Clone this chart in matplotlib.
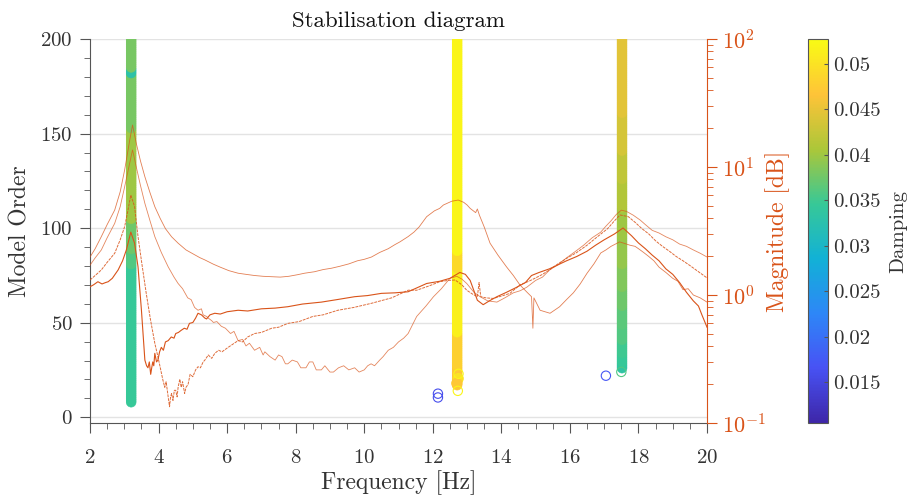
import numpy as np
import matplotlib as mpl
mpl.use('Agg')
import matplotlib.pyplot as plt
from matplotlib.colors import LinearSegmentedColormap, Normalize
from matplotlib.ticker import MultipleLocator, LogLocator, NullFormatter

plt.rcParams['font.family'] = 'cmr10'
plt.rcParams['mathtext.fontset'] = 'cm'
plt.rcParams['axes.formatter.use_mathtext'] = True

FIG_SIZE = (9.13, 4.97)
FRF_COLOR = '#D95319'
AX_COLOR = '#555555'
TXT_COLOR = '#333333'
D_MIN, D_MAX = 0.0105, 0.0527

# parula-like colormap (MATLAB default)
PARULA = LinearSegmentedColormap.from_list('parula', [
    (0.2422, 0.1504, 0.6603), (0.2810, 0.3228, 0.9579), (0.1786, 0.5289, 0.9682),
    (0.0689, 0.6948, 0.8394), (0.2161, 0.7843, 0.5923), (0.6720, 0.7793, 0.2227),
    (0.9970, 0.7659, 0.2199), (0.9769, 0.9839, 0.0805)])

# ---- FRF magnitude curves (4 channels) ----
freq_a = [2.00, 2.15, 2.33, 2.50, 2.72, 2.88, 3.01, 3.16, 3.24, 3.35, 3.47, 3.60, 3.75, 3.89,
          4.05, 4.20, 4.38, 4.57, 4.80, 5.00, 5.20, 5.35, 5.60, 5.80, 6.05, 6.32, 6.55, 6.80,
          7.05, 7.29, 7.55, 7.80, 8.05, 8.26, 8.55, 8.80, 9.05, 9.30, 9.55, 9.80, 10.00, 10.21,
          10.45, 10.70, 10.90, 11.04, 11.28, 11.45, 11.60, 11.82, 12.05, 12.20, 12.31, 12.45,
          12.55, 12.74, 12.90, 13.00, 13.09, 13.25, 13.30, 13.36, 13.50, 13.67, 13.90, 14.15,
          14.35, 14.54, 14.75, 14.88, 14.92, 14.95, 15.13, 15.42, 15.70, 15.90, 16.10, 16.30,
          16.50, 16.70, 16.90, 17.05, 17.20, 17.45, 17.55, 17.75, 17.90, 18.00, 18.15, 18.30,
          18.45, 18.60, 18.80, 19.00, 19.15, 19.30, 19.45, 19.60, 19.80, 20.00]
mag_a = [1.98, 2.30, 2.86, 3.55, 4.61, 6.40, 9.48, 16.3, 21.3, 15.3, 11.2, 8.4, 6.3, 4.90,
         3.95, 3.30, 2.85, 2.54, 2.25, 2.10, 1.96, 1.88, 1.74, 1.65, 1.55, 1.48, 1.45, 1.42,
         1.40, 1.39, 1.38, 1.40, 1.44, 1.48, 1.52, 1.58, 1.62, 1.68, 1.75, 1.85, 1.90, 1.98,
         2.15, 2.30, 2.48, 2.60, 2.86, 3.10, 3.40, 4.09, 4.55, 4.75, 5.05, 5.25,
         5.40, 5.52, 5.30, 5.05, 4.75, 4.40, 4.70, 4.20, 3.40, 2.54, 2.05, 1.66,
         1.42, 1.20, 1.05, 0.97, 0.55, 0.95, 0.76, 0.72, 0.81, 0.92, 1.04, 1.22,
         1.48, 1.75, 2.13, 2.25, 2.40, 2.60, 2.55, 2.45, 2.40, 2.30, 2.15, 2.00,
         1.85, 1.65, 1.50, 1.35, 1.28, 1.10, 1.12, 1.00, 0.95, 0.88]

freq_b = [2.00, 2.15, 2.33, 2.50, 2.72, 2.88, 3.01, 3.15, 3.24, 3.35, 3.47, 3.60, 3.75, 3.89,
          4.08, 4.28, 4.45, 4.57, 4.70, 4.85, 4.95, 5.05, 5.15, 5.25, 5.30, 5.40, 5.45, 5.55,
          5.60, 5.70, 5.83, 5.95, 6.10, 6.20, 6.32, 6.45, 6.55, 6.65, 6.80, 6.95, 7.05, 7.10,
          7.25, 7.40, 7.50, 7.60, 7.70, 7.77, 7.90, 8.05, 8.15, 8.30, 8.40, 8.50, 8.60, 8.75,
          8.85, 9.00, 9.10, 9.25, 9.40, 9.55, 9.72, 9.85, 10.00, 10.10, 10.20, 10.30, 10.45,
          10.55, 10.70, 10.85, 11.00, 11.15, 11.28, 11.53, 11.80, 12.02, 12.25, 12.50, 12.70,
          12.85, 12.99, 13.20, 13.38, 13.60, 13.87, 14.10, 14.35, 14.55, 14.74, 15.00, 15.20,
          15.42, 15.65, 15.90, 16.15, 16.40, 16.65, 16.90, 17.05, 17.20, 17.35, 17.50, 17.65,
          17.85, 18.05, 18.20, 18.40, 18.60, 18.80, 19.00, 19.20, 19.40, 19.60, 19.80, 20.00]
mag_b = [1.71, 1.95, 2.25, 2.80, 3.63, 4.90, 7.0, 10.5, 13.6, 10.0, 7.2, 5.2, 3.80, 2.86,
         2.15, 1.66, 1.38, 1.23, 1.12, 0.95, 0.92, 0.80, 0.76, 0.78, 0.70, 0.68, 0.66, 0.63,
         0.61, 0.62, 0.57, 0.55, 0.50, 0.52, 0.44, 0.45, 0.40, 0.42, 0.37, 0.39, 0.34, 0.36,
         0.33, 0.31, 0.34, 0.33, 0.29, 0.29, 0.31, 0.30, 0.27, 0.27, 0.30, 0.30, 0.26, 0.26,
         0.28, 0.25, 0.25, 0.27, 0.28, 0.26, 0.27, 0.25, 0.26, 0.28, 0.29, 0.28, 0.31,
         0.33, 0.37, 0.39, 0.43, 0.46, 0.50, 0.68, 0.82, 0.97, 1.12, 1.35, 1.40,
         1.33, 1.23, 1.05, 0.97, 0.90, 0.88, 0.95, 1.04, 1.08, 1.15, 1.30, 1.38,
         1.58, 1.72, 1.95, 2.18, 2.45, 2.80, 3.10, 3.45, 3.80, 4.25, 4.60, 4.50,
         4.20, 3.85, 3.55, 3.20, 3.05, 2.85, 2.70, 2.50, 2.40, 2.25, 2.12, 1.98]

freq_c = [2.00, 2.15, 2.33, 2.50, 2.72, 2.88, 3.01, 3.10, 3.19, 3.30, 3.40, 3.52, 3.64, 3.76,
          3.89, 3.98, 4.05, 4.12, 4.18, 4.22, 4.28, 4.32, 4.35, 4.38, 4.42, 4.46, 4.50, 4.54,
          4.57, 4.62, 4.66, 4.70, 4.76, 4.80, 4.86, 4.92, 5.00, 5.08, 5.15, 5.22, 5.30, 5.35,
          5.45, 5.55, 5.64, 5.75, 5.85, 6.03, 6.15, 6.32, 6.45, 6.60, 6.80, 7.00, 7.30, 7.50,
          7.77, 8.10, 8.50, 8.80, 9.23, 9.70, 10.20, 10.80, 11.28, 11.53, 11.90, 12.20, 12.45,
          12.65, 12.85, 12.99, 13.15, 13.30, 13.35, 13.40, 13.55, 13.76, 14.00, 14.25, 14.54,
          14.80, 15.00, 15.20, 15.42, 15.65, 15.90, 16.20, 16.50, 16.80, 17.10, 17.30, 17.46,
          17.70, 17.90, 18.10, 18.30, 18.50, 18.70, 18.90, 19.10, 19.30, 19.50, 19.75, 20.00]
mag_c = [1.31, 1.42, 1.57, 1.80, 2.12, 2.70, 3.42, 4.50, 6.04, 4.9, 2.86, 1.70, 1.03, 0.65,
         0.42, 0.33, 0.27, 0.22, 0.19, 0.21, 0.16, 0.134, 0.16, 0.17, 0.15, 0.18, 0.18, 0.16,
         0.19, 0.22, 0.19, 0.21, 0.17, 0.19, 0.20, 0.24, 0.23, 0.26, 0.275, 0.27, 0.30, 0.31,
         0.34, 0.32, 0.35, 0.37, 0.36, 0.39, 0.41, 0.44, 0.43, 0.47, 0.50, 0.51, 0.55, 0.56,
         0.60, 0.62, 0.68, 0.70, 0.76, 0.80, 0.86, 0.95, 1.09, 1.09, 1.18, 1.27, 1.30,
         1.31, 1.20, 1.09, 1.02, 0.97, 1.25, 0.97, 0.95, 0.94, 0.98, 1.03, 1.20,
         1.28, 1.36, 1.45, 1.58, 1.75, 1.93, 2.15, 2.45, 2.85, 3.30, 3.80, 4.22,
         4.10, 3.70, 3.30, 3.00, 2.65, 2.40, 2.20, 2.00, 1.85, 1.70, 1.52, 1.36]

freq_d = [2.00, 2.10, 2.23, 2.35, 2.45, 2.53, 2.65, 2.82, 2.95, 3.06, 3.19, 3.30, 3.40, 3.50,
          3.60, 3.65, 3.69, 3.73, 3.77, 3.80, 3.83, 3.86, 3.89, 3.94, 3.98, 4.03, 4.08, 4.14,
          4.20, 4.28, 4.37, 4.45, 4.50, 4.58, 4.66, 4.75, 4.83, 4.90, 5.00, 5.08, 5.15, 5.25,
          5.35, 5.40, 5.50, 5.64, 5.80, 6.00, 6.32, 6.60, 7.00, 7.40, 7.77, 8.20, 8.75, 9.20,
          9.72, 10.10, 10.50, 10.90, 11.28, 11.82, 12.20, 12.50, 12.79, 12.95, 13.09, 13.30,
          13.47, 13.65, 13.87, 14.15, 14.45, 14.70, 14.88, 15.10, 15.40, 15.65, 15.90, 16.20,
          16.50, 16.75, 17.00, 17.30, 17.55, 17.80, 18.00, 18.20, 18.40, 18.60, 18.80, 19.00,
          19.20, 19.40, 19.60, 19.75, 19.85, 20.00]
mag_d = [1.16, 1.20, 1.27, 1.22, 1.25, 1.27, 1.35, 1.57, 1.85, 2.25, 3.10, 2.54, 1.66, 0.76,
         0.31, 0.28, 0.27, 0.30, 0.24, 0.27, 0.30, 0.28, 0.35, 0.30, 0.31, 0.36, 0.39, 0.37,
         0.43, 0.44, 0.47, 0.46, 0.50, 0.51, 0.53, 0.55, 0.54, 0.60, 0.61, 0.66, 0.72, 0.70,
         0.66, 0.65, 0.70, 0.72, 0.71, 0.74, 0.76, 0.75, 0.78, 0.79, 0.81, 0.85, 0.88, 0.92,
         0.97, 0.99, 1.03, 1.04, 1.06, 1.23, 1.28, 1.35, 1.50, 1.45, 1.30, 0.91,
         0.84, 0.90, 0.97, 1.05, 1.15, 1.25, 1.42, 1.50, 1.60, 1.72, 1.85, 2.00,
         2.20, 2.45, 2.70, 3.00, 3.34, 2.90, 2.55, 2.30, 2.05, 1.85, 1.60, 1.45,
         1.25, 1.05, 0.90, 0.82, 0.70, 0.56]

# ---- stable poles: one per model order, stretches of (first order, last order, damping) ----
mode_freq = [3.20, 12.71, 17.52]
mode1_stretch = [(8, 80, 0.0345), (81, 88, 0.0360), (89, 104, 0.0375), (105, 152, 0.0400),
                 (153, 181, 0.0380), (182, 184, 0.0330), (185, 200, 0.0380)]
mode2_stretch = [(17, 26, 0.0470), (27, 44, 0.0480), (45, 78, 0.0515), (79, 87, 0.0490),
                 (88, 200, 0.0520)]
mode3_stretch = [(26, 28, 0.0335), (29, 33, 0.0345), (34, 40, 0.0350), (41, 48, 0.0360),
                 (49, 58, 0.0365), (59, 68, 0.0375), (69, 80, 0.0385), (81, 95, 0.0395),
                 (96, 110, 0.0400), (111, 125, 0.0410), (126, 140, 0.0420),
                 (141, 160, 0.0435), (161, 200, 0.0445)]

# loose poles at the bottom of the columns
extra_freq = [12.74, 12.70]
extra_order = [20.5, 18.0]
extra_damp = [0.0500, 0.0470]

# hollow (unstable) poles
open_freq = [12.15, 12.15, 12.73, 12.75, 17.05, 17.50]
open_order = [10.5, 12.5, 14.0, 23.0, 22.0, 24.0]
open_damp = [0.0160, 0.0160, 0.0520, 0.0520, 0.0170, 0.0360]

cbar_ticks = [0.015, 0.02, 0.025, 0.03, 0.035, 0.04, 0.045, 0.05]

fig = plt.figure(figsize=FIG_SIZE, dpi=100)
ax = fig.add_axes([0.0986, 0.1489, 0.6758, 0.7726])
norm = Normalize(D_MIN, D_MAX)

# Stabilisation columns
for f0, stretches in zip(mode_freq, [mode1_stretch, mode2_stretch, mode3_stretch]):
    orders, damps = [], []
    for first, last, d in stretches:
        n = np.arange(first, last + 1)
        orders.append(n)
        damps.append(np.full(len(n), d))
    orders = np.concatenate(orders)
    damps = np.concatenate(damps)
    ax.scatter(np.full(len(orders), f0), orders, c=damps, cmap=PARULA, norm=norm,
               s=50, edgecolors='face', linewidths=0.4, zorder=3)
ax.scatter(extra_freq, extra_order, c=extra_damp, cmap=PARULA, norm=norm,
           s=50, edgecolors='face', zorder=3)
ax.scatter(open_freq, open_order, facecolors='none', edgecolors=PARULA(norm(open_damp)),
           s=45, linewidths=0.8, zorder=3)

ax.set_xlim(2, 20)
ax.set_ylim(-3, 200)
ax.xaxis.set_major_locator(MultipleLocator(2))
ax.xaxis.set_minor_locator(MultipleLocator(0.5))
ax.yaxis.set_major_locator(MultipleLocator(50))
ax.yaxis.set_minor_locator(MultipleLocator(10))
ax.yaxis.grid(True, color='#e3e3e3', lw=1.0)
ax.set_axisbelow(True)
ax.tick_params(which='both', direction='out', colors=AX_COLOR, labelcolor=TXT_COLOR,
               labelsize=15)
ax.tick_params(which='major', length=7)
ax.tick_params(which='minor', length=4)
ax.tick_params(axis='x', which='major', pad=12)
ax.tick_params(axis='y', which='major', pad=5.5)
for s in ['top', 'right']:
    ax.spines[s].set_visible(False)
for s in ['left', 'bottom']:
    ax.spines[s].set_color(AX_COLOR)
ax.set_xlabel('Frequency [Hz]', fontsize=17, color=TXT_COLOR, labelpad=2)
ax.set_ylabel('Model Order', fontsize=17, color=TXT_COLOR, labelpad=6)
ax.set_title('Stabilisation diagram', fontsize=16.5, color='#111111', pad=9)

# FRF magnitudes on log axis
ax2 = ax.twinx()
ax2.plot(freq_a, mag_a, color=FRF_COLOR, lw=0.6, alpha=0.75)
ax2.plot(freq_b, mag_b, color=FRF_COLOR, lw=0.6, alpha=0.7)
ax2.plot(freq_c, mag_c, color=FRF_COLOR, lw=0.7, alpha=0.85, ls=(0, (3, 1)))
ax2.plot(freq_d, mag_d, color=FRF_COLOR, lw=0.8)
ax2.set_yscale('log')
ax2.set_ylim(0.1, 100)
ax2.yaxis.set_major_locator(LogLocator(base=10))
ax2.yaxis.set_minor_locator(LogLocator(base=10, subs=np.arange(2, 10)))
ax2.yaxis.set_minor_formatter(NullFormatter())
ax2.tick_params(which='both', direction='out', colors=FRF_COLOR, labelsize=16)
ax2.tick_params(which='major', length=7)
ax2.tick_params(which='minor', length=4)
for s in ['top', 'left', 'bottom']:
    ax2.spines[s].set_visible(False)
ax2.spines['right'].set_color(FRF_COLOR)
ax2.set_ylabel('Magnitude [dB]', fontsize=17, color=FRF_COLOR, labelpad=0)

# colorbar
cax = fig.add_axes([0.885, 0.1489, 0.0219, 0.7726])
sm = mpl.cm.ScalarMappable(norm=norm, cmap=PARULA)
cb = fig.colorbar(sm, cax=cax)
cb.set_ticks(cbar_ticks)
cb.set_ticklabels(['%g' % t for t in cbar_ticks])
cb.outline.set_edgecolor(AX_COLOR)
cax.tick_params(direction='in', length=3, colors=AX_COLOR, labelcolor=TXT_COLOR, labelsize=15)
cb.set_label('Damping', fontsize=15, color=TXT_COLOR, labelpad=6)

fig.savefig('out.png', dpi=100)
